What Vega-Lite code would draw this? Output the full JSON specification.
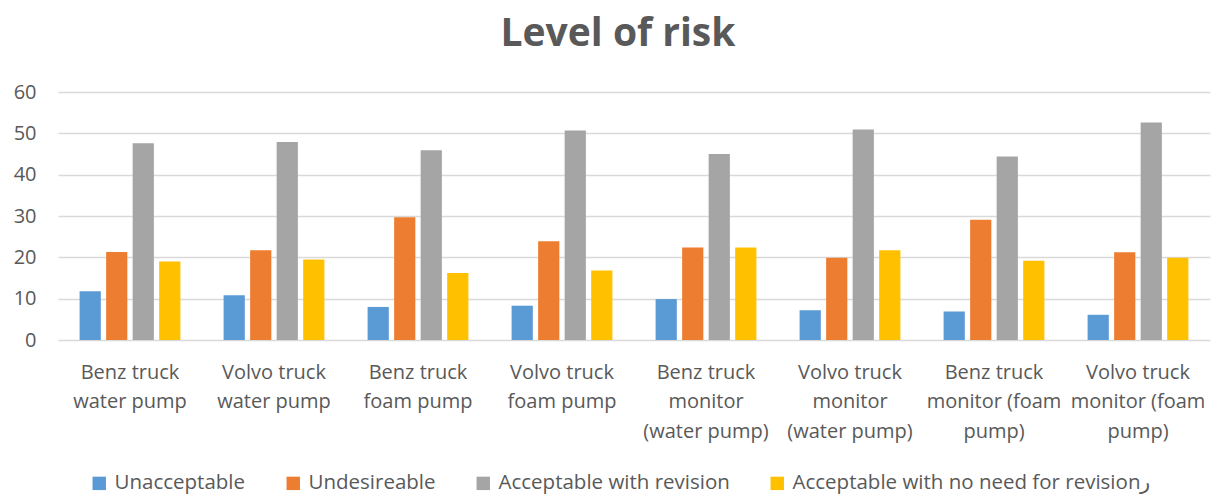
{
  "$schema": "https://vega.github.io/schema/vega-lite/v6.json",
  "width": 1152,
  "height": 248,
  "autosize": {"type": "none"},
  "padding": {"left": 58, "top": 92, "right": 10, "bottom": 154},
  "background": "white",
  "title": {
    "text": "Level of risk",
    "font": "Open Sans",
    "fontSize": 39,
    "fontWeight": "bold",
    "color": "#595959",
    "anchor": "middle",
    "offset": 28,
    "dx": -16
  },
  "data": {
    "values": [
      {"category": "Benz truck water pump", "level": "Unacceptable", "value": 11.8},
      {"category": "Benz truck water pump", "level": "Undesireable", "value": 21.3},
      {"category": "Benz truck water pump", "level": "Acceptable with revision", "value": 47.6},
      {"category": "Benz truck water pump", "level": "Acceptable with no need for revisionر", "value": 19.0},
      {"category": "Volvo truck water pump", "level": "Unacceptable", "value": 10.8},
      {"category": "Volvo truck water pump", "level": "Undesireable", "value": 21.7},
      {"category": "Volvo truck water pump", "level": "Acceptable with revision", "value": 47.9},
      {"category": "Volvo truck water pump", "level": "Acceptable with no need for revisionر", "value": 19.5},
      {"category": "Benz truck foam pump", "level": "Unacceptable", "value": 8.0},
      {"category": "Benz truck foam pump", "level": "Undesireable", "value": 29.7},
      {"category": "Benz truck foam pump", "level": "Acceptable with revision", "value": 45.9},
      {"category": "Benz truck foam pump", "level": "Acceptable with no need for revisionر", "value": 16.2},
      {"category": "Volvo truck foam pump", "level": "Unacceptable", "value": 8.3},
      {"category": "Volvo truck foam pump", "level": "Undesireable", "value": 23.9},
      {"category": "Volvo truck foam pump", "level": "Acceptable with revision", "value": 50.7},
      {"category": "Volvo truck foam pump", "level": "Acceptable with no need for revisionر", "value": 16.8},
      {"category": "Benz truck monitor (water pump)", "level": "Unacceptable", "value": 9.9},
      {"category": "Benz truck monitor (water pump)", "level": "Undesireable", "value": 22.4},
      {"category": "Benz truck monitor (water pump)", "level": "Acceptable with revision", "value": 45.0},
      {"category": "Benz truck monitor (water pump)", "level": "Acceptable with no need for revisionر", "value": 22.4},
      {"category": "Volvo truck monitor (water pump)", "level": "Unacceptable", "value": 7.2},
      {"category": "Volvo truck monitor (water pump)", "level": "Undesireable", "value": 19.9},
      {"category": "Volvo truck monitor (water pump)", "level": "Acceptable with revision", "value": 50.9},
      {"category": "Volvo truck monitor (water pump)", "level": "Acceptable with no need for revisionر", "value": 21.7},
      {"category": "Benz truck monitor (foam pump)", "level": "Unacceptable", "value": 6.9},
      {"category": "Benz truck monitor (foam pump)", "level": "Undesireable", "value": 29.1},
      {"category": "Benz truck monitor (foam pump)", "level": "Acceptable with revision", "value": 44.4},
      {"category": "Benz truck monitor (foam pump)", "level": "Acceptable with no need for revisionر", "value": 19.2},
      {"category": "Volvo truck monitor (foam pump)", "level": "Unacceptable", "value": 6.1},
      {"category": "Volvo truck monitor (foam pump)", "level": "Undesireable", "value": 21.2},
      {"category": "Volvo truck monitor (foam pump)", "level": "Acceptable with revision", "value": 52.6},
      {"category": "Volvo truck monitor (foam pump)", "level": "Acceptable with no need for revisionر", "value": 19.9}
    ]
  },
  "mark": {"type": "bar"},
  "encoding": {
    "x": {
      "field": "category",
      "type": "nominal",
      "sort": null,
      "scale": {"paddingInner": 0.3, "paddingOuter": 0.15},
      "axis": {
        "title": null,
        "labelAngle": 0,
        "ticks": false,
        "domain": false,
        "labelFont": "Open Sans",
        "labelFontSize": 20,
        "labelColor": "#595959",
        "labelLineHeight": 29.5,
        "labelPadding": 22,
        "labelLimit": 200,
        "labelExpr": "({'Benz truck water pump': ['Benz truck', 'water pump'], 'Volvo truck water pump': ['Volvo truck', 'water pump'], 'Benz truck foam pump': ['Benz truck', 'foam pump'], 'Volvo truck foam pump': ['Volvo truck', 'foam pump'], 'Benz truck monitor (water pump)': ['Benz truck', 'monitor', '(water pump)'], 'Volvo truck monitor (water pump)': ['Volvo truck', 'monitor', '(water pump)'], 'Benz truck monitor (foam pump)': ['Benz truck', 'monitor (foam', 'pump)'], 'Volvo truck monitor (foam pump)': ['Volvo truck', 'monitor (foam', 'pump)']})[datum.label]"
      }
    },
    "xOffset": {
      "field": "level",
      "type": "nominal",
      "sort": ["Unacceptable", "Undesireable", "Acceptable with revision", "Acceptable with no need for revisionر"],
      "scale": {"paddingInner": 0.2, "paddingOuter": 0}
    },
    "y": {
      "field": "value",
      "type": "quantitative",
      "scale": {"domain": [0, 60], "nice": false},
      "axis": {
        "title": null,
        "values": [0, 10, 20, 30, 40, 50, 60],
        "ticks": false,
        "domain": false,
        "labelFont": "Open Sans",
        "labelFontSize": 20,
        "labelColor": "#595959",
        "labelPadding": 22,
        "gridColor": "#d9d9d9",
        "gridWidth": 1.5
      }
    },
    "color": {
      "field": "level",
      "type": "nominal",
      "sort": ["Unacceptable", "Undesireable", "Acceptable with revision", "Acceptable with no need for revisionر"],
      "scale": {
        "domain": ["Unacceptable", "Undesireable", "Acceptable with revision", "Acceptable with no need for revisionر"],
        "range": ["#5B9BD5", "#ED7D31", "#A5A5A5", "#FFC000"]
      },
      "legend": {
        "title": null,
        "orient": "none",
        "legendX": 31,
        "legendY": 381,
        "direction": "horizontal",
        "symbolType": "square",
        "symbolSize": 180,
        "symbolStrokeWidth": 0,
        "labelFont": "Open Sans",
        "labelFontSize": 20.5,
        "labelColor": "#595959",
        "labelOffset": 5,
        "columnPadding": 37,
        "labelLimit": 500
      }
    }
  },
  "config": {"view": {"stroke": null}}
}
